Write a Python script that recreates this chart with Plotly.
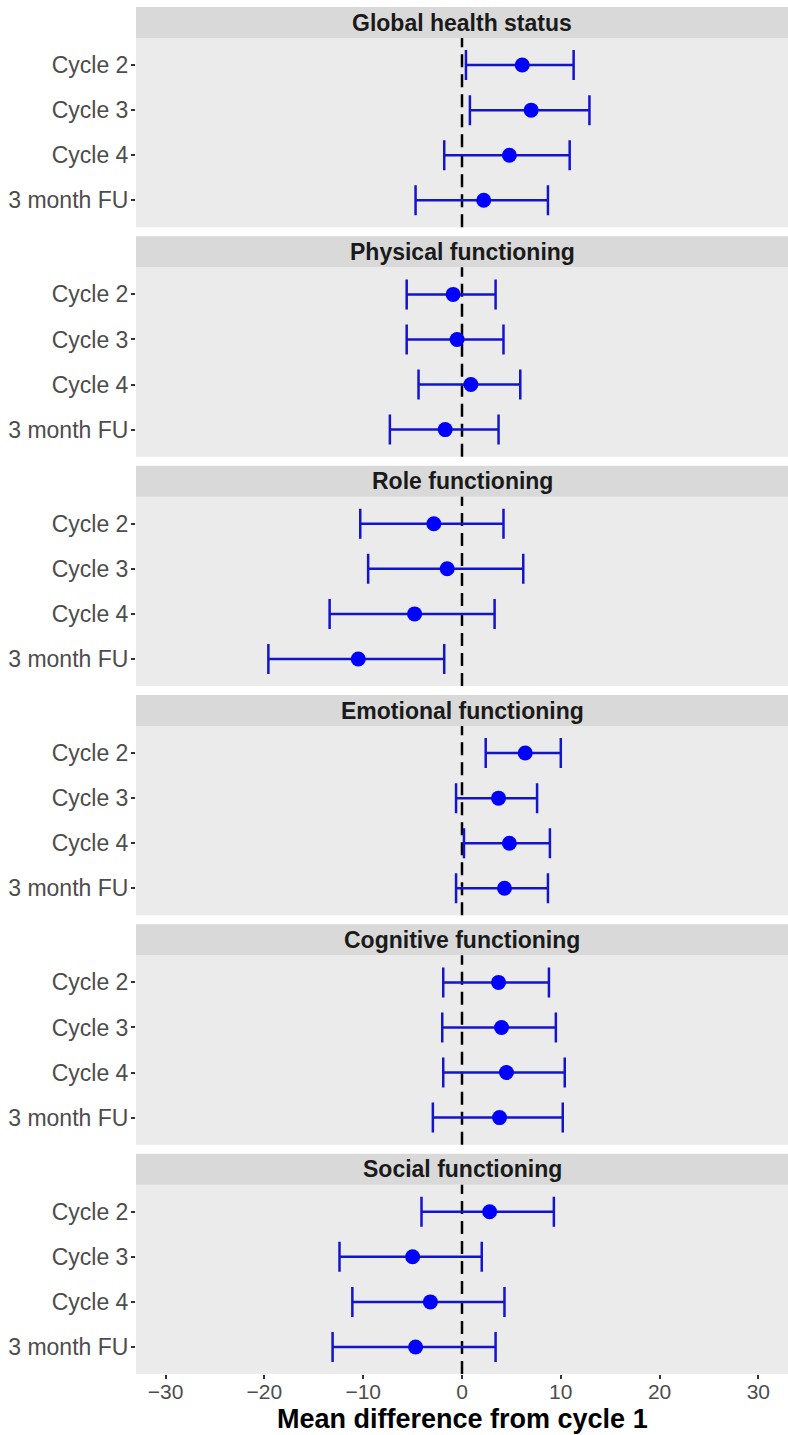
import plotly.graph_objects as go

# ---------------- data ----------------
timepoints = ["Cycle 2", "Cycle 3", "Cycle 4", "3 month FU"]
domains = ["Global health status", "Physical functioning", "Role functioning",
           "Emotional functioning", "Cognitive functioning", "Social functioning"]

global_mean = [6.1, 7.0, 4.8, 2.2]
global_lower = [0.4, 0.8, -1.8, -4.7]
global_upper = [11.3, 12.9, 10.9, 8.7]

physical_mean = [-0.9, -0.5, 0.9, -1.7]
physical_lower = [-5.6, -5.6, -4.4, -7.3]
physical_upper = [3.4, 4.2, 5.9, 3.7]

role_mean = [-2.85, -1.5, -4.8, -10.5]
role_lower = [-10.3, -9.5, -13.4, -19.6]
role_upper = [4.2, 6.2, 3.3, -1.8]

emotional_mean = [6.4, 3.7, 4.8, 4.3]
emotional_lower = [2.4, -0.6, 0.2, -0.6]
emotional_upper = [10.0, 7.6, 8.9, 8.7]

cognitive_mean = [3.7, 4.0, 4.5, 3.8]
cognitive_lower = [-1.9, -2.0, -1.9, -2.95]
cognitive_upper = [8.8, 9.5, 10.4, 10.2]

social_mean = [2.8, -5.0, -3.2, -4.7]
social_lower = [-4.1, -12.4, -11.1, -13.1]
social_upper = [9.3, 2.0, 4.3, 3.4]

x_ticks = [-30, -20, -10, 0, 10, 20, 30]
x_title = "Mean difference from cycle 1"

series = [
    (global_mean, global_lower, global_upper),
    (physical_mean, physical_lower, physical_upper),
    (role_mean, role_lower, role_upper),
    (emotional_mean, emotional_lower, emotional_upper),
    (cognitive_mean, cognitive_lower, cognitive_upper),
    (social_mean, social_lower, social_upper),
]

# ---------------- layout geometry (pixels) ----------------
W, H = 788, 1435
M_T, M_B, M_L, M_R = 7, 61, 136, 0
plot_h = H - M_T - M_B
STRIP = 31.0
GAP = 9.0
PANEL = (plot_h - 6 * STRIP - 5 * GAP) / 6.0

def py(abs_px):
    # absolute pixel (from figure top) -> paper y
    v = (H - M_B - abs_px) / plot_h
    return round(v, 6)

def clamp(v):
    return min(1.0, max(0.0, v))

FONT = "Arial, 'Liberation Sans', sans-serif"
PANEL_BG = "#EBEBEB"
STRIP_BG = "#D9D9D9"
POINT_COL = "#0000FF"
BAR_COL = "#1414CC"

fig = go.Figure()
layout = dict(
    width=W, height=H,
    margin=dict(l=M_L, r=M_R, t=M_T, b=M_B),
    paper_bgcolor="white",
    plot_bgcolor="white",
    showlegend=False,
    shapes=[], annotations=[],
)

yvals = list(range(1, len(timepoints) + 1))

for i, (dname, (m, lo, up)) in enumerate(zip(domains, series)):
    k = i + 1
    xa = "x" if k == 1 else f"x{k}"
    ya = "y" if k == 1 else f"y{k}"
    strip_top = M_T + i * (STRIP + PANEL + GAP)
    panel_top = strip_top + STRIP
    panel_bot = panel_top + PANEL

    plus = [u - v for u, v in zip(up, m)]
    minus = [v - l for v, l in zip(m, lo)]

    fig.add_trace(go.Scatter(
        x=m, y=yvals, xaxis=xa, yaxis=ya, mode="markers",
        marker=dict(color=POINT_COL, size=15, line=dict(width=0)),
        error_x=dict(type="data", symmetric=False, array=plus, arrayminus=minus,
                     color=BAR_COL, thickness=2.5, width=15),
        hoverinfo="x+y",
    ))

    last = (k == len(domains))
    layout[f"xaxis{'' if k == 1 else k}"] = dict(
        domain=[0, 1], anchor=ya, range=[-33, 33],
        tickvals=x_ticks, ticktext=[("\u2212" + str(-t)) if t < 0 else str(t) for t in x_ticks],
        showticklabels=last, ticks="outside" if last else "",
        ticklen=4, tickwidth=1.5, tickcolor="#333333",
        ticklabelstandoff=-5,
        tickfont=dict(family=FONT, size=21, color="#4D4D4D"),
        showgrid=False, zeroline=False, showline=False,
        matches=None if k == 1 else "x",
    )
    layout[f"yaxis{'' if k == 1 else k}"] = dict(
        domain=[clamp(py(panel_bot)), clamp(py(panel_top))], anchor=xa,
        range=[4.6, 0.4], tickvals=yvals, ticktext=timepoints,
        ticks="outside", ticklen=4, tickwidth=1.5, tickcolor="#333333",
        ticklabelstandoff=-2,
        tickfont=dict(family=FONT, size=23, color="#4D4D4D"),
        showgrid=False, zeroline=False, showline=False,
    )
    # panel background
    layout["shapes"].append(dict(
        type="rect", xref="paper", yref="paper", x0=0, x1=1,
        y0=clamp(py(panel_bot)), y1=clamp(py(panel_top)), fillcolor=PANEL_BG,
        line=dict(width=0), layer="below",
    ))
    # strip
    layout["shapes"].append(dict(
        type="rect", xref="paper", yref="paper", x0=0, x1=1,
        y0=py(panel_top), y1=py(strip_top), fillcolor=STRIP_BG,
        line=dict(width=0), layer="below",
    ))
    layout["annotations"].append(dict(
        text=f"<b>{dname}</b>", xref="paper", yref="paper",
        x=0.5, y=py((strip_top + panel_top) / 2), xanchor="center", yanchor="middle",
        showarrow=False, font=dict(family=FONT, size=23, color="#1A1A1A"),
    ))
    # dashed reference line at 0
    layout["shapes"].append(dict(
        type="line", xref=xa, yref=f"{ya} domain", x0=0, x1=0, y0=0, y1=1,
        line=dict(color="black", width=2.5, dash="13px,7px"), layer="below",
    ))

layout["annotations"].append(dict(
    text=f"<b>{x_title}</b>", xref="paper", yref="paper",
    x=0.5, y=py(1419), xanchor="center", yanchor="middle",
    showarrow=False, font=dict(family=FONT, size=27, color="black"),
))

fig.update_layout(**layout)
fig.write_html("out.html",
               config={"displayModeBar": False},
               post_script="document.body.style.margin='0';document.body.style.overflow='hidden';")
